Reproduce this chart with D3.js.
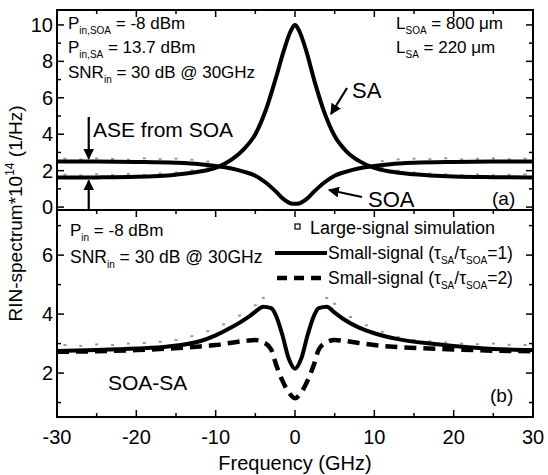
<!DOCTYPE html>
<html>
<head>
<meta charset="utf-8">
<script src="https://cdn.jsdelivr.net/npm/d3@7"></script>
<style>
  body { margin: 0; background: #fff; }
  text { font-family: "Liberation Sans", Arial, sans-serif; fill: #000; }
</style>
</head>
<body>
<div id="chart"></div>
<script>
// panel (a): single-section spectra
var freqA = [-30,-25,-20,-15,-12,-10,-8,-6.5,-5,-3.7,-2.4,-1.4,-0.5,0,0.5,1.4,2.4,3.7,5,6.5,8,10,12,15,20,25,30];
var saA   = [1.62,1.63,1.66,1.78,1.95,2.15,2.6,3.15,4.0,5.3,7.1,8.6,9.7,10.0,9.7,8.6,7.0,5.2,3.9,3.05,2.55,2.15,1.95,1.8,1.68,1.64,1.62];
var soaA  = [2.5,2.5,2.48,2.43,2.35,2.25,2.12,1.95,1.72,1.35,0.85,0.42,0.2,0.18,0.2,0.42,0.85,1.35,1.72,1.95,2.12,2.25,2.35,2.43,2.48,2.5,2.5];

// panel (b): SOA-SA cascade
var freqB   = [-30,-25,-20,-16,-12,-10,-8,-6,-5,-4,-3,-2.4,-1.6,-0.8,0,0.8,1.6,2.4,3,4,5,6,8,10,13,17,20,25,30];
var ratio1B = [2.75,2.78,2.83,2.9,3.08,3.28,3.55,3.88,4.08,4.25,4.2,3.95,3.3,2.5,2.15,2.5,3.3,3.95,4.2,4.25,4.05,3.85,3.55,3.35,3.15,3.0,2.92,2.82,2.78];
var ratio2B = [2.72,2.74,2.78,2.83,2.9,2.95,3.03,3.1,3.12,3.05,2.8,2.3,1.75,1.35,1.15,1.35,1.75,2.3,2.8,3.05,3.12,3.1,3.02,2.95,2.88,2.83,2.8,2.76,2.74];

// large-signal simulation points
var lsFreqA  = [-29,-27,-25,-23,-21,-19,-17,-15,-13,-11,11,13,15,17,19,21,23,25,27,29];
var lsUpperA = [2.66,2.62,2.67,2.64,2.6,2.68,2.63,2.66,2.6,2.5,2.52,2.62,2.66,2.63,2.68,2.62,2.65,2.67,2.63,2.66];
var lsLowerA = [1.78,1.74,1.8,1.76,1.82,1.77,1.85,1.9,2.02,2.2,2.2,2.0,1.9,1.84,1.8,1.76,1.79,1.75,1.78,1.8];
var lsFreqB  = [-29,-27,-25,-23,-21,-19,-17,-15,-13,-11,-9,-7,-5,-4,4,5,7,9,11,13,15,17,19,21,23,25,27,29];
var lsB      = [2.95,2.92,2.97,2.95,3.0,3.02,3.06,3.12,3.25,3.42,3.65,3.95,4.3,4.55,4.55,4.35,3.9,3.62,3.4,3.22,3.12,3.08,3.04,3.0,2.98,3.0,2.96,2.95];

var xTicks = [-30,-20,-10,0,10,20,30];
var xMinor = [-25,-15,-5,5,15,25];

var width = 548, height = 475;
var plotL = 57, plotR = 533, plotT = 10, plotM = 210, plotB = 417;

var svg = d3.select('#chart').append('svg')
  .attr('width', width)
  .attr('height', height);

var x = d3.scaleLinear().domain([-30, 30]).range([plotL, plotR]);
var yA = d3.scaleLinear().domain([-0.16, 10.82]).range([plotM, plotT]);
var yB = d3.scaleLinear().domain([0.51, 7.53]).range([plotB, plotM]);

var defs = svg.append('defs');
defs.append('marker')
  .attr('id', 'arrow')
  .attr('viewBox', '0 0 10 10')
  .attr('refX', 9).attr('refY', 5)
  .attr('markerWidth', 5).attr('markerHeight', 5)
  .attr('orient', 'auto-start-reverse')
  .append('path')
  .attr('d', 'M0,0 L10,5 L0,10 z')
  .attr('fill', '#000');

// large-signal points first so lines sit above
function lsDots(fx, vals, y) {
  svg.append('g').selectAll('rect')
    .data(fx.map((f, i) => [f, vals[i]]))
    .enter().append('rect')
    .attr('x', d => x(d[0]) - 1.5)
    .attr('y', d => y(d[1]) - 1)
    .attr('width', 3)
    .attr('height', 2)
    .attr('fill', '#999');
}
lsDots(lsFreqA, lsUpperA, yA);
lsDots(lsFreqA, lsLowerA, yA);
lsDots(lsFreqB, lsB, yB);

function curve(fx, vals, y) {
  return d3.line()
    .x(d => x(d[0]))
    .y(d => y(d[1]))
    .curve(d3.curveMonotoneX)(fx.map((f, i) => [f, vals[i]]));
}

svg.append('path').attr('d', curve(freqA, saA, yA))
  .attr('fill', 'none').attr('stroke', '#000').attr('stroke-width', 4);
svg.append('path').attr('d', curve(freqA, soaA, yA))
  .attr('fill', 'none').attr('stroke', '#000').attr('stroke-width', 4);
svg.append('path').attr('d', curve(freqB, ratio1B, yB))
  .attr('fill', 'none').attr('stroke', '#000').attr('stroke-width', 4);
svg.append('path').attr('d', curve(freqB, ratio2B, yB))
  .attr('fill', 'none').attr('stroke', '#000').attr('stroke-width', 4.5)
  .attr('stroke-dasharray', '12,7');

// frames
svg.append('rect')
  .attr('x', plotL).attr('y', plotT)
  .attr('width', plotR - plotL).attr('height', plotB - plotT)
  .attr('fill', 'none').attr('stroke', '#000').attr('stroke-width', 2);
svg.append('line')
  .attr('x1', plotL).attr('x2', plotR).attr('y1', plotM).attr('y2', plotM)
  .attr('stroke', '#000').attr('stroke-width', 2);

// x ticks (inward) on top, divider and bottom
var tickG = svg.append('g').attr('stroke', '#000').attr('stroke-width', 1.5);
function xTickRow(yPos, dir) {
  xTicks.forEach(t => tickG.append('line')
    .attr('x1', x(t)).attr('x2', x(t)).attr('y1', yPos).attr('y2', yPos + dir * 7));
  xMinor.forEach(t => tickG.append('line')
    .attr('x1', x(t)).attr('x2', x(t)).attr('y1', yPos).attr('y2', yPos + dir * 4));
}
xTickRow(plotT, 1);
xTickRow(plotM, 1);
xTickRow(plotB, -1);

function yTickCol(y, major, minor) {
  major.forEach(t => {
    tickG.append('line').attr('x1', plotL).attr('x2', plotL + 7).attr('y1', y(t)).attr('y2', y(t));
    tickG.append('line').attr('x1', plotR).attr('x2', plotR - 7).attr('y1', y(t)).attr('y2', y(t));
  });
  minor.forEach(t => {
    tickG.append('line').attr('x1', plotL).attr('x2', plotL + 4).attr('y1', y(t)).attr('y2', y(t));
    tickG.append('line').attr('x1', plotR).attr('x2', plotR - 4).attr('y1', y(t)).attr('y2', y(t));
  });
}
yTickCol(yA, [0,2,4,6,8,10], [1,3,5,7,9]);
yTickCol(yB, [2,4,6], [1,3,5,7]);

// tick labels
svg.append('g').selectAll('text')
  .data(xTicks).enter().append('text')
  .attr('x', d => x(d)).attr('y', plotB + 27)
  .attr('text-anchor', 'middle').attr('font-size', 20)
  .text(d => d);
svg.append('g').selectAll('text')
  .data([0,2,4,6,8,10]).enter().append('text')
  .attr('x', plotL - 4).attr('y', d => yA(d) + 7)
  .attr('text-anchor', 'end').attr('font-size', 20)
  .text(d => d);
svg.append('g').selectAll('text')
  .data([2,4,6]).enter().append('text')
  .attr('x', plotL - 4).attr('y', d => yB(d) + 7)
  .attr('text-anchor', 'end').attr('font-size', 20)
  .text(d => d);

// axis titles
svg.append('text')
  .attr('x', x(0)).attr('y', 470)
  .attr('text-anchor', 'middle').attr('font-size', 20)
  .text('Frequency (GHz)');
var yl = svg.append('text')
  .attr('transform', 'translate(22,' + ((plotT + plotB) / 2) + ') rotate(-90)')
  .attr('text-anchor', 'middle').attr('font-size', 19);
yl.append('tspan').text('RIN-spectrum*10');
yl.append('tspan').attr('font-size', 12).attr('dy', -8).text('14');
yl.append('tspan').attr('dy', 8).text(' (1/Hz)');

// text with subscripts: parts = [[text, isSub], ...]
function label(px, py, parts, size) {
  var t = svg.append('text').attr('x', px).attr('y', py).attr('font-size', size || 17);
  var sub = false;
  parts.forEach(p => {
    var s = t.append('tspan').text(p[0]);
    if (p[1]) s.attr('font-size', 10);
    if (p[1] && !sub) { s.attr('dy', 5); sub = true; }
    else if (!p[1] && sub) { s.attr('dy', -5); sub = false; }
  });
  return t;
}

label(68, 29, [['P'], ['in,SOA', 1], [' = -8 dBm']]);
label(68, 53, [['P'], ['in,SA', 1], [' = 13.7 dBm']]);
label(68, 78, [['SNR'], ['in', 1], [' = 30 dB @ 30GHz']]);
label(396, 29, [['L'], ['SOA', 1], [' = 800 \u03bcm']]);
label(396, 53, [['L'], ['SA', 1], [' = 220 \u03bcm']]);

svg.append('text').attr('x', 352).attr('y', 98).attr('font-size', 22).text('SA');
svg.append('text').attr('x', 93).attr('y', 137).attr('font-size', 21).text('ASE from SOA');
svg.append('text').attr('x', 368).attr('y', 207).attr('font-size', 22).text('SOA');
svg.append('text').attr('x', 492).attr('y', 205).attr('font-size', 19).text('(a)');

// arrows
function arrow(x1, y1, x2, y2) {
  svg.append('line')
    .attr('x1', x1).attr('y1', y1).attr('x2', x2).attr('y2', y2)
    .attr('stroke', '#000').attr('stroke-width', 2.2)
    .attr('marker-end', 'url(#arrow)');
}
arrow(347, 88, 331, 114);
arrow(362, 197, 329, 190);
arrow(x(-26), 117, x(-26), yA(2.5) - 3);
arrow(x(-26), plotM, x(-26), yA(1.62) + 3);

// panel (b) texts
label(70, 236, [['P'], ['in', 1], [' = -8 dBm']]);
label(70, 263, [['SNR'], ['in', 1], [' = 30 dB @ 30GHz']], 17.5);
svg.append('text').attr('x', 108).attr('y', 390).attr('font-size', 21).text('SOA-SA');
svg.append('text').attr('x', 490).attr('y', 402).attr('font-size', 19).text('(b)');

// legend
svg.append('rect').attr('x', 295).attr('y', 224).attr('width', 5).attr('height', 5)
  .attr('fill', 'none').attr('stroke', '#000').attr('stroke-width', 1.2);
svg.append('text').attr('x', 310).attr('y', 234).attr('font-size', 18).text('Large-signal simulation');
svg.append('line').attr('x1', 275).attr('x2', 327).attr('y1', 253).attr('y2', 253)
  .attr('stroke', '#000').attr('stroke-width', 4);
label(328, 259, [['Small-signal (\u03c4'], ['SA', 1], ['/\u03c4'], ['SOA', 1], ['=1)']], 17.5);
svg.append('line').attr('x1', 277).attr('x2', 327).attr('y1', 278).attr('y2', 278)
  .attr('stroke', '#000').attr('stroke-width', 4.5).attr('stroke-dasharray', '10,7');
label(328, 284, [['Small-signal (\u03c4'], ['SA', 1], ['/\u03c4'], ['SOA', 1], ['=2)']], 17.5);
</script>
</body>
</html>
